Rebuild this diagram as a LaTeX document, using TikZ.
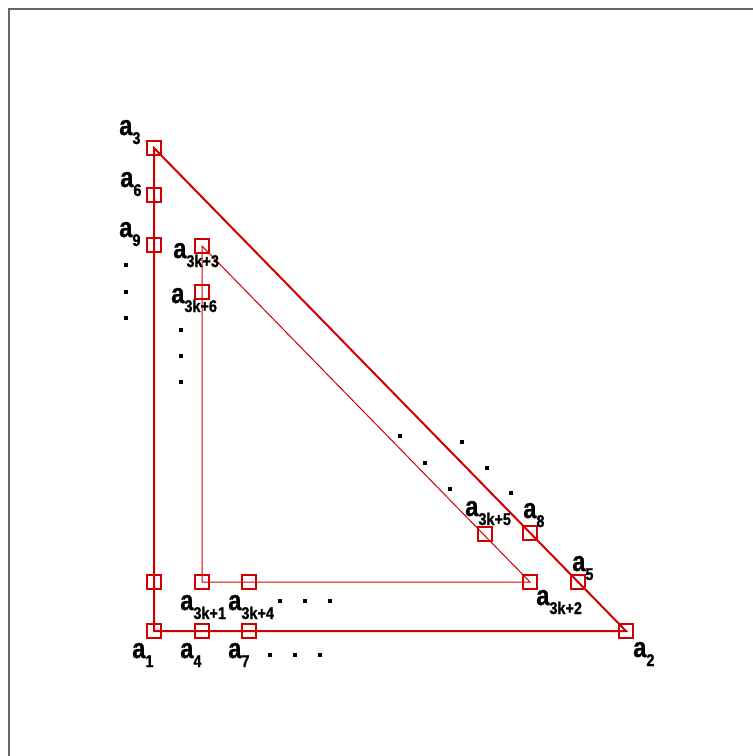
\documentclass[tikz,border=0pt]{standalone}
\usepackage{fontspec}
\setmainfont{Liberation Sans}
\newfontfamily\labelfont[FakeBold=1.2]{Liberation Sans Bold}
\usepackage{tikz}
\usetikzlibrary{positioning}
\definecolor{edgered}{RGB}{208,0,0}
\newcommand{\ai}[1]{\scalebox{0.85}[1]{a\raisebox{-9pt}{\fontsize{17}{17}\selectfont #1}}}
\tikzset{
  sq/.style={draw=edgered, rectangle, minimum size=14pt, inner sep=0pt, line width=2pt},
  outer/.style={draw=edgered, line width=2pt},
  inner/.style={draw=edgered, line width=1pt},
  lbl/.style={anchor=base west, inner sep=0pt, font=\fontsize{28}{28}\selectfont\labelfont},
  frame/.style={draw=black!60, line width=1.5pt}
}
\begin{document}
\begin{tikzpicture}[x=1pt, y=-1pt]
\useasboundingbox (0,0) rectangle (753,756);
\draw[frame] (9,756) -- (9,9) -- (753,9);
% outer triangle
\node[sq] (a1) at (154,631) {};
\node[sq] (a2) at (626,631) {};
\node[sq] (a3) at (154,148) {};
\node[sq] (a4) at (202,631) {};
\node[sq] (a5) at (578,582) {};
\node[sq] (a6) at (154,195) {};
\node[sq] (a7) at (249,631) {};
\node[sq] (a8) at (530,533) {};
\node[sq] (a9) at (154,245) {};
\node[sq] (aL) at (154,582) {};
\draw[outer] (a1.center) -- (a2.center) -- (a3.center) -- cycle;
% inner triangle
\node[sq] (b1) at (202,582) {};
\node[sq] (b2) at (530,582) {};
\node[sq] (b3) at (202,246) {};
\node[sq] (b4) at (249,582) {};
\node[sq] (b5) at (485,534) {};
\node[sq] (b6) at (202,292) {};
\draw[inner] (b1.center) -- (b2.center) -- (b3.center) -- cycle;
% labels
\node[lbl] (la3) at (119,135) {\ai{3}};
\node[lbl] (la6) at (120,187) {\ai{6}};
\node[lbl] (la9) at (119,237) {\ai{9}};
\node[lbl] (la1) at (132,658) {\ai{1}};
\node[lbl] (la4) at (180,658) {\ai{4}};
\node[lbl] (la7) at (228,658) {\ai{7}};
\node[lbl] (la8) at (523,518) {\ai{8}};
\node[lbl] (la5) at (572,571) {\ai{5}};
\node[lbl] (la2) at (633,657) {\ai{2}};
\node[lbl] (lb3) at (173,258) {\ai{3k+3}};
\node[lbl] (lb6) at (171,303) {\ai{3k+6}};
\node[lbl] (lb1) at (180,610) {\ai{3k+1}};
\node[lbl] (lb4) at (228,610) {\ai{3k+4}};
\node[lbl] (lb5) at (465,516) {\ai{3k+5}};
\node[lbl] (lb2) at (536,605) {\ai{3k+2}};
% dots
\foreach \x/\y in {126/265, 126/292, 126/318, 181/330, 181/356, 181/382,
  280/601, 305/601, 330/601, 270/655, 295/655, 320/655,
  400/436, 425/463, 450/489, 462/442, 487/468, 511/493}
  \fill (\x-1.8,\y-1.8) rectangle (\x+1.8,\y+1.8);
\end{tikzpicture}
\end{document}
